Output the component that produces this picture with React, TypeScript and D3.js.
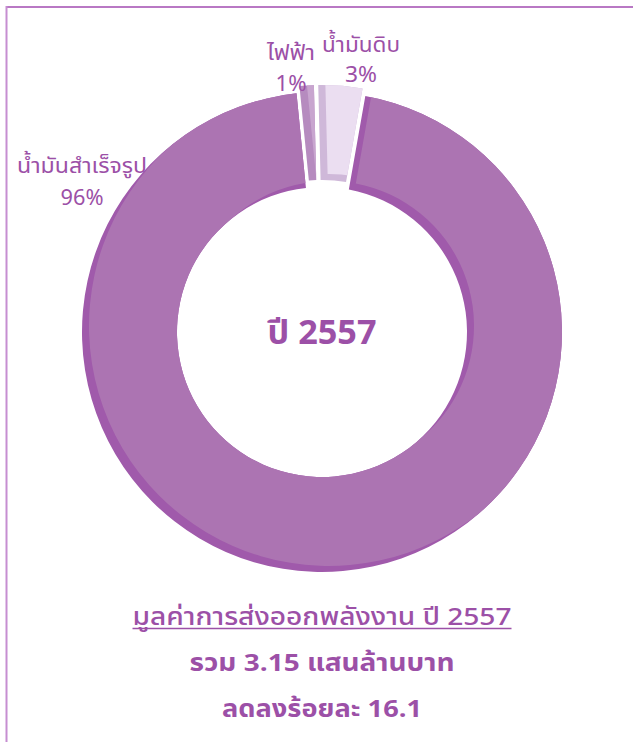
import React from "react";
import * as d3 from "d3";

const categories = ["น้ำมันสำเร็จรูป", "ไฟฟ้า", "น้ำมันดิบ"];
const shares = [96, 1, 3];
const percentLabels = ["96%", "1%", "3%"];
const centerTitle = "ปี 2557";
const footerLines = ["มูลค่าการส่งออกพลังงาน ปี 2557", "รวม 3.15 แสนล้านบาท", "ลดลงร้อยละ 16.1"];

const faceColors = ["#ac74b2", "#c8a5cf", "#ebdef1"];
const edgeColors = ["#a05aab", "#b68bbf", "#cfb8d9"];
const exploded = [0, 7, 7];

const W = 633;
const H = 742;
const cx = 322;
const cy = 332;
const outerR = 240;
const innerR = 145;
const textColor = "#9c50a7";
const fontFamily = "Tahoma, 'Leelawadee UI', 'Noto Sans Thai', 'DejaVu Sans', sans-serif";

// label layout: [x, baseline 1, baseline 2, width 1, width 2]
const labelLayout: [number, number, number, number, number][] = [
  [82, 173, 205, 130, 43],
  [291, 60, 91, 48, 31],
  [361, 52, 82, 78, 32],
];
// footer layout: [baseline, width]
const footerLayout: [number, number][] = [
  [625, 379],
  [671, 265],
  [717, 200],
];

export default function App() {
  const deg = Math.PI / 180;
  const pie = d3
    .pie<number>()
    .sort(null)
    .value((d) => d)
    .startAngle(10 * deg)
    .endAngle(370 * deg)
    .padAngle(0.012);
  const arcs = pie(shares);
  const arc = d3.arc<d3.PieArcDatum<number>>().innerRadius(innerR).outerRadius(outerR);

  return (
    <svg
      width={W}
      height={H}
      style={{ position: "absolute", left: 0, top: 0, background: "#fff" }}
      fontFamily={fontFamily}
    >
      <defs>
        {arcs.map((a, i) => (
          <clipPath id={`clip-${i}`} key={i}>
            <path d={arc(a) || ""} />
          </clipPath>
        ))}
      </defs>
      {/* frame */}
      <line x1={6.5} y1={7} x2={W} y2={7} stroke="#b978c4" strokeWidth={2} />
      <line x1={6.5} y1={6} x2={6.5} y2={H} stroke="#c68ed1" strokeWidth={2} />

      <g transform={`translate(${cx},${cy})`}>
        {arcs.map((a, i) => {
          const mid = (a.startAngle + a.endAngle) / 2;
          const ox = Math.sin(mid) * exploded[i];
          const oy = -Math.cos(mid) * exploded[i];
          const d = arc(a) || "";
          return (
            <g key={i} transform={`translate(${ox},${oy})`}>
              <path d={d} fill={edgeColors[i]} />
              <g clipPath={`url(#clip-${i})`}>
                <path d={d} fill={faceColors[i]} transform="translate(7,-6)" />
              </g>
            </g>
          );
        })}
        <text
          x={0}
          y={12}
          textAnchor="middle"
          fontSize={34}
          fontWeight="bold"
          fill={textColor}
          textLength={109}
          lengthAdjust="spacingAndGlyphs"
        >
          {centerTitle}
        </text>
      </g>

      {categories.map((c, i) => {
        const [lx, y1, y2, w1, w2] = labelLayout[i];
        return (
          <g key={c} fill={textColor} fontSize={22} textAnchor="middle">
            <text x={lx} y={y1} textLength={w1} lengthAdjust="spacingAndGlyphs">
              {c}
            </text>
            <text x={lx} y={y2} textLength={w2} lengthAdjust="spacingAndGlyphs">
              {percentLabels[i]}
            </text>
          </g>
        );
      })}

      <g fill={textColor} textAnchor="middle" fontSize={24}>
        <text
          x={cx}
          y={footerLayout[0][0]}
          textLength={footerLayout[0][1]}
          lengthAdjust="spacingAndGlyphs"
          fontWeight={500}
        >
          {footerLines[0]}
        </text>
        <line
          x1={cx - footerLayout[0][1] / 2}
          x2={cx + footerLayout[0][1] / 2}
          y1={footerLayout[0][0] + 3.5}
          y2={footerLayout[0][0] + 3.5}
          stroke={textColor}
          strokeWidth={1.5}
        />
        <text
          x={cx}
          y={footerLayout[1][0]}
          textLength={footerLayout[1][1]}
          lengthAdjust="spacingAndGlyphs"
          fontWeight="bold"
        >
          {footerLines[1]}
        </text>
        <text
          x={cx}
          y={footerLayout[2][0]}
          textLength={footerLayout[2][1]}
          lengthAdjust="spacingAndGlyphs"
          fontWeight="bold"
        >
          {footerLines[2]}
        </text>
      </g>
    </svg>
  );
}
